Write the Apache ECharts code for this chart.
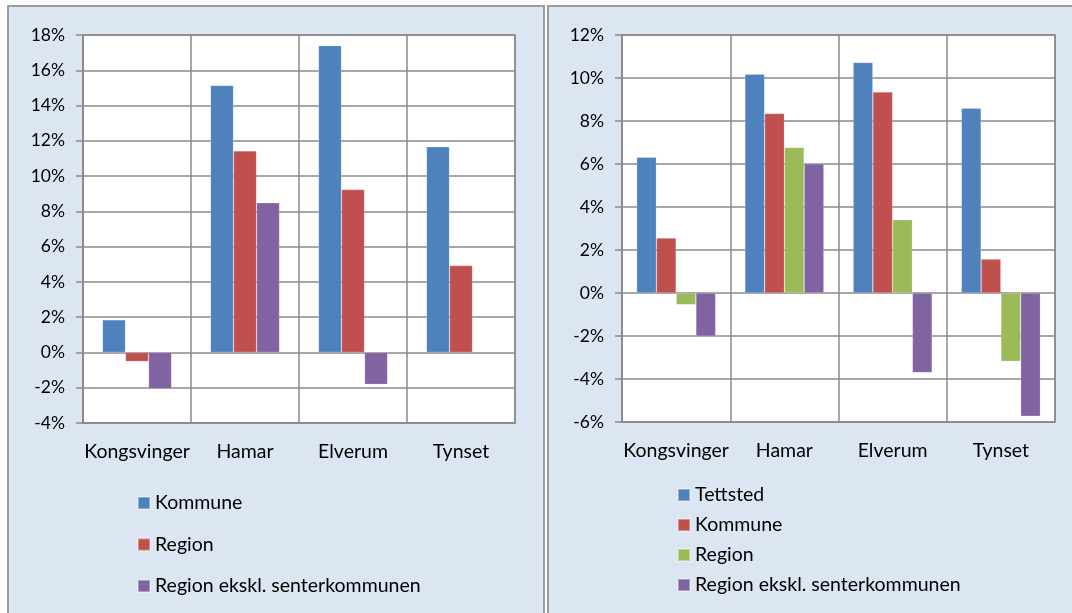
<!DOCTYPE html>
<html>
<head>
<meta charset="utf-8">
<script src="https://cdn.jsdelivr.net/npm/echarts@6/dist/echarts.min.js"></script>
<style>
  html, body { margin: 0; padding: 0; background: #ffffff; }
  #chart { width: 1072px; height: 613px; }
</style>
</head>
<body>
<div id="chart"></div>
<script>
// ---- data ----
const categories = ['Kongsvinger', 'Hamar', 'Elverum', 'Tynset'];

// left chart (values in %)
const leftNames = ['Kommune', 'Region', 'Region ekskl. senterkommunen'];
const leftKommune = [1.85, 15.14, 17.40, 11.66];
const leftRegion = [-0.51, 11.43, 9.24, 4.93];
const leftRegionEkskl = [-2.06, 8.49, -1.81, null];

// right chart (values in %)
const rightNames = ['Tettsted', 'Kommune', 'Region', 'Region ekskl. senterkommunen'];
const rightTettsted = [6.32, 10.18, 10.72, 8.60];
const rightKommune = [2.56, 8.35, 9.35, 1.58];
const rightRegion = [-0.54, 6.77, 3.41, -3.18];
const rightRegionEkskl = [-2.01, 6.01, -3.70, -5.73];

// axis ranges (ticks every 2 %)
const leftAxisRange = [-4, 18];
const rightAxisRange = [-6, 12];
const tickStep = 2;

// ---- styling ----
const FONT = 'Lato';
const GRID_COLOR = '#8a8a8a';
const PANEL_BG = '#dce6f2';
const PANEL_BORDER = '#9c9c9c';
const C_BLUE = '#4f81bd', C_RED = '#c0504d', C_GREEN = '#9bbb59', C_PURPLE = '#8064a2';

const chart = echarts.init(document.getElementById('chart'), null, { renderer: 'canvas' });

function yAxis(gridIndex, range) {
  return {
    type: 'value', gridIndex: gridIndex,
    min: range[0], max: range[1], interval: tickStep,
    axisLine: { show: true, lineStyle: { color: GRID_COLOR, width: 1.5 } },
    axisTick: { show: true, length: 7, lineStyle: { color: GRID_COLOR, width: 1.5 } },
    splitLine: { show: true, lineStyle: { color: GRID_COLOR, width: 1.5 } },
    axisLabel: { formatter: '{value}%', color: '#000', fontFamily: FONT, fontSize: 17.5, margin: 18 }
  };
}
function xAxis(gridIndex) {
  return {
    type: 'category', gridIndex: gridIndex, data: categories,
    axisLine: { show: true, onZero: false, lineStyle: { color: GRID_COLOR, width: 1.5 } },
    axisTick: { show: false },
    splitLine: { show: true, interval: 0, lineStyle: { color: GRID_COLOR, width: 1.5 } },
    axisLabel: { color: '#000', fontFamily: FONT, fontSize: 19.5, margin: 19, interval: 0 }
  };
}
function bar(id, data, color, xi, gap) {
  return {
    type: 'bar', name: id, data: data, xAxisIndex: xi, yAxisIndex: xi,
    barGap: '0%', barCategoryGap: gap,
    itemStyle: { color: color, borderColor: 'rgba(255,255,255,0.35)', borderWidth: 0.6 },
    emphasis: { disabled: true }
  };
}
const stripPrefix = n => n.slice(2);

const option = {
  animation: false,
  backgroundColor: '#ffffff',
  graphic: [
    { type: 'rect', z: -10, silent: true, shape: { x: 8, y: 6, width: 536, height: 620 },
      style: { fill: PANEL_BG, stroke: PANEL_BORDER, lineWidth: 2 } },
    { type: 'rect', z: -10, silent: true, shape: { x: 548, y: 6, width: 540, height: 620 },
      style: { fill: PANEL_BG, stroke: PANEL_BORDER, lineWidth: 2 } }
  ],
  grid: [
    { left: 83, top: 35, width: 432, height: 388, show: true, backgroundColor: '#ffffff',
      borderColor: GRID_COLOR, borderWidth: 1.5, containLabel: false },
    { left: 622, top: 35, width: 433, height: 387, show: true, backgroundColor: '#ffffff',
      borderColor: GRID_COLOR, borderWidth: 1.5, containLabel: false }
  ],
  xAxis: [xAxis(0), xAxis(1)],
  yAxis: [yAxis(0, leftAxisRange), yAxis(1, rightAxisRange)],
  legend: [
    {
      orient: 'vertical', left: 137, top: 493, padding: 0,
      itemWidth: 12, itemHeight: 12, itemGap: 21.5, icon: 'rect',
      data: leftNames.map(n => 'L:' + n), formatter: stripPrefix,
      textStyle: { color: '#000', fontFamily: FONT, fontSize: 19.5, lineHeight: 20 },
      selectedMode: false
    },
    {
      orient: 'vertical', left: 677, top: 485, padding: 0,
      itemWidth: 12, itemHeight: 12, itemGap: 10, icon: 'rect',
      data: rightNames.map(n => 'R:' + n), formatter: stripPrefix,
      textStyle: { color: '#000', fontFamily: FONT, fontSize: 19.5, lineHeight: 20 },
      selectedMode: false
    }
  ],
  series: [
    bar('L:' + leftNames[0], leftKommune, C_BLUE, 0, '36%'),
    bar('L:' + leftNames[1], leftRegion, C_RED, 0, '36%'),
    bar('L:' + leftNames[2], leftRegionEkskl, C_PURPLE, 0, '36%'),
    bar('R:' + rightNames[0], rightTettsted, C_BLUE, 1, '27%'),
    bar('R:' + rightNames[1], rightKommune, C_RED, 1, '27%'),
    bar('R:' + rightNames[2], rightRegion, C_GREEN, 1, '27%'),
    bar('R:' + rightNames[3], rightRegionEkskl, C_PURPLE, 1, '27%')
  ]
};
chart.setOption(option);
</script>
</body>
</html>
